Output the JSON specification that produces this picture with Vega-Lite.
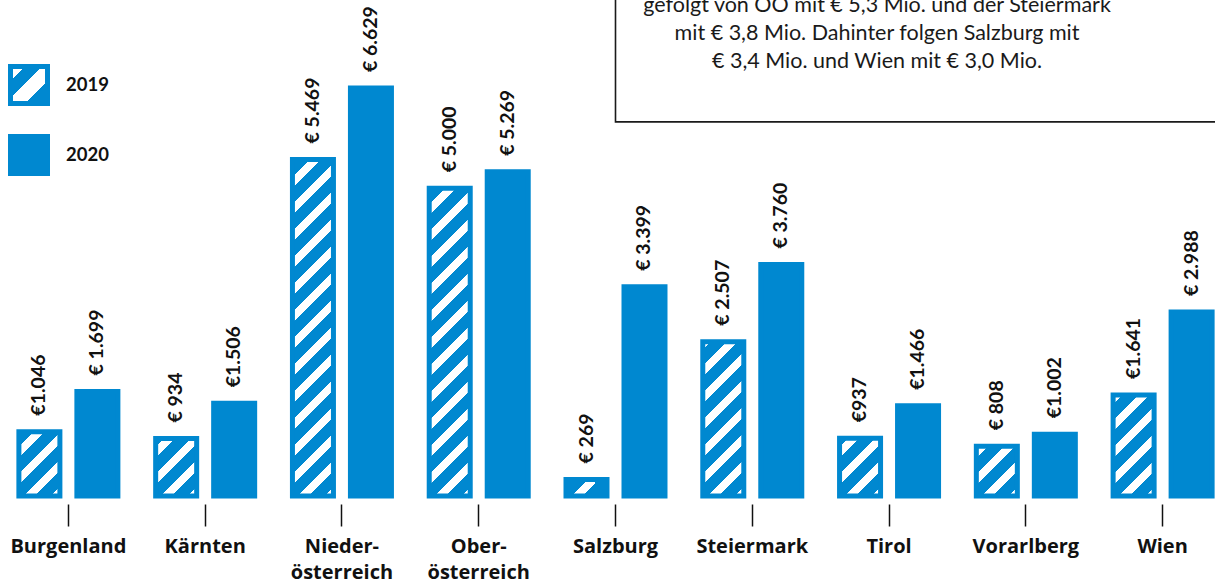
{
  "$schema": "https://vega.github.io/schema/vega-lite/v6.json",
  "width": 1231,
  "height": 496,
  "autosize": {"type": "none"},
  "padding": {"left": 0, "top": 0, "right": 0, "bottom": 86},
  "background": "white",
  "config": {"view": {"stroke": null}, "font": "Lato"},
  "datasets": {
    "funding": [
      {"region": "Burgenland", "year": "2019", "value": 1046, "label": "€1.046"},
      {"region": "Burgenland", "year": "2020", "value": 1699, "label": "€ 1.699"},
      {"region": "Kärnten", "year": "2019", "value": 934, "label": "€ 934"},
      {"region": "Kärnten", "year": "2020", "value": 1506, "label": "€1.506"},
      {"region": "Niederösterreich", "year": "2019", "value": 5469, "label": "€ 5.469"},
      {"region": "Niederösterreich", "year": "2020", "value": 6629, "label": "€ 6.629"},
      {"region": "Oberösterreich", "year": "2019", "value": 5000, "label": "€ 5.000"},
      {"region": "Oberösterreich", "year": "2020", "value": 5269, "label": "€ 5.269"},
      {"region": "Salzburg", "year": "2019", "value": 269, "label": "€ 269"},
      {"region": "Salzburg", "year": "2020", "value": 3399, "label": "€ 3.399"},
      {"region": "Steiermark", "year": "2019", "value": 2507, "label": "€ 2.507"},
      {"region": "Steiermark", "year": "2020", "value": 3760, "label": "€ 3.760"},
      {"region": "Tirol", "year": "2019", "value": 937, "label": "€937"},
      {"region": "Tirol", "year": "2020", "value": 1466, "label": "€1.466"},
      {"region": "Vorarlberg", "year": "2019", "value": 808, "label": "€ 808"},
      {"region": "Vorarlberg", "year": "2020", "value": 1002, "label": "€1.002"},
      {"region": "Wien", "year": "2019", "value": 1641, "label": "€1.641"},
      {"region": "Wien", "year": "2020", "value": 2988, "label": "€ 2.988"}
    ],
    "note": [
      {"note": "gefolgt von OÖ mit € 5,3 Mio. und der Steiermark\nmit € 3,8 Mio. Dahinter folgen Salzburg mit\n€ 3,4 Mio. und Wien mit € 3,0 Mio."}
    ]
  },
  "layer": [
    {
      "data": {"name": "funding"},
      "mark": {"type": "bar", "stroke": "#0088d0", "strokeWidth": 5, "strokeJoin": "miter"},
      "encoding": {
        "x": {
          "field": "region", "type": "nominal", "sort": null, "title": null,
          "scale": {"paddingInner": 0, "paddingOuter": 0},
          "axis": {
            "domain": false, "grid": false, "ticks": true, "tickSize": 22, "tickWidth": 1.5, "tickColor": "#111111",
            "offset": 8, "labelAngle": 0, "labelFont": "Open Sans", "labelFontWeight": "bold", "labelFontSize": 20,
            "labelColor": "#111111", "labelPadding": 10, "labelLineHeight": 26, "labelBaseline": "top",
            "labelExpr": "split(replace(datum.label, 'rösterreich', 'r-|österreich'), '|')"
          }
        },
        "xOffset": {"field": "year", "type": "nominal", "scale": {"paddingInner": 0.293, "paddingOuter": 0.3257}},
        "y": {"field": "value", "type": "quantitative", "scale": {"domain": [0, 8060], "nice": false}, "axis": null},
        "fill": {
          "field": "year", "type": "nominal",
          "scale": {"range": [
            {"expr": "{gradient: 'linear', x1: 0, y1: 0, x2: 1, y2: 1, stops: [{offset: 0, color: '#ffffff'}, {offset: 0.2, color: '#ffffff'}, {offset: 0.2, color: '#0088d0'}, {offset: 0.42, color: '#0088d0'}, {offset: 0.42, color: '#ffffff'}, {offset: 0.7, color: '#ffffff'}, {offset: 0.7, color: '#0088d0'}, {offset: 1, color: '#0088d0'}]}"},
            "#0088d0"]},
          "legend": {
            "orient": "none", "legendX": 8, "legendY": 64, "title": null,
            "symbolType": "square", "symbolSize": 1369, "symbolStrokeWidth": 5, "symbolStrokeColor": "#0088d0",
            "symbolOpacity": 1, "rowPadding": 12, "labelFont": "Lato", "labelFontWeight": "bold", "labelFontSize": 18.5,
            "labelColor": "#111111", "labelOffset": 16
          },
          "condition": [
            {"test": "datum.year === '2019' && datum.region === 'Burgenland'", "value": {"gradient": "linear", "x1": 0, "y1": 0, "x2": 0.7417, "y2": 1.1645, "stops": [
              {"offset": 0, "color": "#0088d0"},
              {"offset": 0.1459, "color": "#0088d0"}, {"offset": 0.1459, "color": "#ffffff"}, {"offset": 0.2503, "color": "#ffffff"}, {"offset": 0.2503, "color": "#0088d0"},
              {"offset": 0.4021, "color": "#0088d0"}, {"offset": 0.4021, "color": "#ffffff"}, {"offset": 0.5065, "color": "#ffffff"}, {"offset": 0.5065, "color": "#0088d0"},
              {"offset": 0.6583, "color": "#0088d0"}, {"offset": 0.6583, "color": "#ffffff"}, {"offset": 0.7627, "color": "#ffffff"}, {"offset": 0.7627, "color": "#0088d0"},
              {"offset": 0.9146, "color": "#0088d0"}, {"offset": 0.9146, "color": "#ffffff"}, {"offset": 1, "color": "#ffffff"}]}},
            {"test": "datum.year === '2019' && datum.region === 'Kärnten'", "value": {"gradient": "linear", "x1": 0, "y1": 0, "x2": 0.81, "y2": 1.1355, "stops": [
              {"offset": 0, "color": "#0088d0"},
              {"offset": 0.0861, "color": "#0088d0"}, {"offset": 0.0861, "color": "#ffffff"}, {"offset": 0.1978, "color": "#ffffff"}, {"offset": 0.1978, "color": "#0088d0"},
              {"offset": 0.3603, "color": "#0088d0"}, {"offset": 0.3603, "color": "#ffffff"}, {"offset": 0.472, "color": "#ffffff"}, {"offset": 0.472, "color": "#0088d0"},
              {"offset": 0.6344, "color": "#0088d0"}, {"offset": 0.6344, "color": "#ffffff"}, {"offset": 0.7461, "color": "#ffffff"}, {"offset": 0.7461, "color": "#0088d0"},
              {"offset": 0.9086, "color": "#0088d0"}, {"offset": 0.9086, "color": "#ffffff"}, {"offset": 1, "color": "#ffffff"}]}},
            {"test": "datum.year === '2019' && datum.region === 'Niederösterreich'", "value": {"gradient": "linear", "x1": 0, "y1": 0, "x2": 0.13467, "y2": 1.10542, "stops": [
              {"offset": 0, "color": "#0088d0"},
              {"offset": 0.04648, "color": "#0088d0"}, {"offset": 0.04648, "color": "#ffffff"}, {"offset": 0.07562, "color": "#ffffff"}, {"offset": 0.07562, "color": "#0088d0"},
              {"offset": 0.118, "color": "#0088d0"}, {"offset": 0.118, "color": "#ffffff"}, {"offset": 0.14713, "color": "#ffffff"}, {"offset": 0.14713, "color": "#0088d0"},
              {"offset": 0.18951, "color": "#0088d0"}, {"offset": 0.18951, "color": "#ffffff"}, {"offset": 0.21865, "color": "#ffffff"}, {"offset": 0.21865, "color": "#0088d0"},
              {"offset": 0.26103, "color": "#0088d0"}, {"offset": 0.26103, "color": "#ffffff"}, {"offset": 0.29016, "color": "#ffffff"}, {"offset": 0.29016, "color": "#0088d0"},
              {"offset": 0.33254, "color": "#0088d0"}, {"offset": 0.33254, "color": "#ffffff"}, {"offset": 0.36168, "color": "#ffffff"}, {"offset": 0.36168, "color": "#0088d0"},
              {"offset": 0.40406, "color": "#0088d0"}, {"offset": 0.40406, "color": "#ffffff"}, {"offset": 0.43319, "color": "#ffffff"}, {"offset": 0.43319, "color": "#0088d0"},
              {"offset": 0.47557, "color": "#0088d0"}, {"offset": 0.47557, "color": "#ffffff"}, {"offset": 0.50471, "color": "#ffffff"}, {"offset": 0.50471, "color": "#0088d0"},
              {"offset": 0.54709, "color": "#0088d0"}, {"offset": 0.54709, "color": "#ffffff"}, {"offset": 0.57622, "color": "#ffffff"}, {"offset": 0.57622, "color": "#0088d0"},
              {"offset": 0.6186, "color": "#0088d0"}, {"offset": 0.6186, "color": "#ffffff"}, {"offset": 0.64774, "color": "#ffffff"}, {"offset": 0.64774, "color": "#0088d0"},
              {"offset": 0.69012, "color": "#0088d0"}, {"offset": 0.69012, "color": "#ffffff"}, {"offset": 0.71925, "color": "#ffffff"}, {"offset": 0.71925, "color": "#0088d0"},
              {"offset": 0.76163, "color": "#0088d0"}, {"offset": 0.76163, "color": "#ffffff"}, {"offset": 0.79077, "color": "#ffffff"}, {"offset": 0.79077, "color": "#0088d0"},
              {"offset": 0.83315, "color": "#0088d0"}, {"offset": 0.83315, "color": "#ffffff"}, {"offset": 0.86228, "color": "#ffffff"}, {"offset": 0.86228, "color": "#0088d0"},
              {"offset": 0.90466, "color": "#0088d0"}, {"offset": 0.90466, "color": "#ffffff"}, {"offset": 0.93379, "color": "#ffffff"}, {"offset": 0.93379, "color": "#0088d0"},
              {"offset": 0.97616, "color": "#0088d0"}, {"offset": 0.97616, "color": "#ffffff"}, {"offset": 1, "color": "#ffffff"}]}},
            {"test": "datum.year === '2019' && datum.region === 'Oberösterreich'", "value": {"gradient": "linear", "x1": 0, "y1": 0, "x2": 0.14837, "y2": 1.11348, "stops": [
              {"offset": 0, "color": "#0088d0"},
              {"offset": 0.045, "color": "#0088d0"}, {"offset": 0.045, "color": "#ffffff"}, {"offset": 0.07654, "color": "#ffffff"}, {"offset": 0.07654, "color": "#0088d0"},
              {"offset": 0.12243, "color": "#0088d0"}, {"offset": 0.12243, "color": "#ffffff"}, {"offset": 0.15398, "color": "#ffffff"}, {"offset": 0.15398, "color": "#0088d0"},
              {"offset": 0.19986, "color": "#0088d0"}, {"offset": 0.19986, "color": "#ffffff"}, {"offset": 0.23141, "color": "#ffffff"}, {"offset": 0.23141, "color": "#0088d0"},
              {"offset": 0.2773, "color": "#0088d0"}, {"offset": 0.2773, "color": "#ffffff"}, {"offset": 0.30884, "color": "#ffffff"}, {"offset": 0.30884, "color": "#0088d0"},
              {"offset": 0.35473, "color": "#0088d0"}, {"offset": 0.35473, "color": "#ffffff"}, {"offset": 0.38628, "color": "#ffffff"}, {"offset": 0.38628, "color": "#0088d0"},
              {"offset": 0.43217, "color": "#0088d0"}, {"offset": 0.43217, "color": "#ffffff"}, {"offset": 0.46371, "color": "#ffffff"}, {"offset": 0.46371, "color": "#0088d0"},
              {"offset": 0.5096, "color": "#0088d0"}, {"offset": 0.5096, "color": "#ffffff"}, {"offset": 0.54114, "color": "#ffffff"}, {"offset": 0.54114, "color": "#0088d0"},
              {"offset": 0.58703, "color": "#0088d0"}, {"offset": 0.58703, "color": "#ffffff"}, {"offset": 0.61858, "color": "#ffffff"}, {"offset": 0.61858, "color": "#0088d0"},
              {"offset": 0.66446, "color": "#0088d0"}, {"offset": 0.66446, "color": "#ffffff"}, {"offset": 0.69601, "color": "#ffffff"}, {"offset": 0.69601, "color": "#0088d0"},
              {"offset": 0.7419, "color": "#0088d0"}, {"offset": 0.7419, "color": "#ffffff"}, {"offset": 0.77344, "color": "#ffffff"}, {"offset": 0.77344, "color": "#0088d0"},
              {"offset": 0.81933, "color": "#0088d0"}, {"offset": 0.81933, "color": "#ffffff"}, {"offset": 0.85088, "color": "#ffffff"}, {"offset": 0.85088, "color": "#0088d0"},
              {"offset": 0.89676, "color": "#0088d0"}, {"offset": 0.89676, "color": "#ffffff"}, {"offset": 0.92831, "color": "#ffffff"}, {"offset": 0.92831, "color": "#0088d0"},
              {"offset": 0.97419, "color": "#0088d0"}, {"offset": 0.97419, "color": "#ffffff"}, {"offset": 1, "color": "#ffffff"}]}},
            {"test": "datum.year === '2019' && datum.region === 'Salzburg'", "value": {"gradient": "linear", "x1": 0, "y1": 0, "x2": 1.207, "y2": 0.4872, "stops": [
              {"offset": 0, "color": "#0088d0"},
              {"offset": 0.3745, "color": "#0088d0"}, {"offset": 0.3745, "color": "#ffffff"}, {"offset": 0.5656, "color": "#ffffff"}, {"offset": 0.5656, "color": "#0088d0"},
              {"offset": 1, "color": "#0088d0"}]}},
            {"test": "datum.year === '2019' && datum.region === 'Steiermark'", "value": {"gradient": "linear", "x1": 0, "y1": 0, "x2": 0.31419, "y2": 1.18226, "stops": [
              {"offset": 0, "color": "#ffffff"}, {"offset": 0.0424, "color": "#ffffff"}, {"offset": 0.0424, "color": "#0088d0"},
              {"offset": 0.12433, "color": "#0088d0"}, {"offset": 0.12433, "color": "#ffffff"}, {"offset": 0.18067, "color": "#ffffff"}, {"offset": 0.18067, "color": "#0088d0"},
              {"offset": 0.2626, "color": "#0088d0"}, {"offset": 0.2626, "color": "#ffffff"}, {"offset": 0.31893, "color": "#ffffff"}, {"offset": 0.31893, "color": "#0088d0"},
              {"offset": 0.40086, "color": "#0088d0"}, {"offset": 0.40086, "color": "#ffffff"}, {"offset": 0.45719, "color": "#ffffff"}, {"offset": 0.45719, "color": "#0088d0"},
              {"offset": 0.53912, "color": "#0088d0"}, {"offset": 0.53912, "color": "#ffffff"}, {"offset": 0.59545, "color": "#ffffff"}, {"offset": 0.59545, "color": "#0088d0"},
              {"offset": 0.67738, "color": "#0088d0"}, {"offset": 0.67738, "color": "#ffffff"}, {"offset": 0.73372, "color": "#ffffff"}, {"offset": 0.73372, "color": "#0088d0"},
              {"offset": 0.81565, "color": "#0088d0"}, {"offset": 0.81565, "color": "#ffffff"}, {"offset": 0.87198, "color": "#ffffff"}, {"offset": 0.87198, "color": "#0088d0"},
              {"offset": 0.95391, "color": "#0088d0"}, {"offset": 0.95391, "color": "#ffffff"}, {"offset": 1, "color": "#ffffff"}]}},
            {"test": "datum.year === '2019' && datum.region === 'Tirol'", "value": {"gradient": "linear", "x1": 0, "y1": 0, "x2": 0.8081, "y2": 1.13645, "stops": [
              {"offset": 0, "color": "#0088d0"},
              {"offset": 0.08778, "color": "#0088d0"}, {"offset": 0.08778, "color": "#ffffff"}, {"offset": 0.19927, "color": "#ffffff"}, {"offset": 0.19927, "color": "#0088d0"},
              {"offset": 0.36144, "color": "#0088d0"}, {"offset": 0.36144, "color": "#ffffff"}, {"offset": 0.47294, "color": "#ffffff"}, {"offset": 0.47294, "color": "#0088d0"},
              {"offset": 0.63511, "color": "#0088d0"}, {"offset": 0.63511, "color": "#ffffff"}, {"offset": 0.7466, "color": "#ffffff"}, {"offset": 0.7466, "color": "#0088d0"},
              {"offset": 0.90878, "color": "#0088d0"}, {"offset": 0.90878, "color": "#ffffff"}, {"offset": 1, "color": "#ffffff"}]}},
            {"test": "datum.year === '2019' && datum.region === 'Vorarlberg'", "value": {"gradient": "linear", "x1": 0, "y1": 0, "x2": 0.8956, "y2": 1.08608, "stops": [
              {"offset": 0, "color": "#0088d0"},
              {"offset": 0.00794, "color": "#0088d0"}, {"offset": 0.00794, "color": "#ffffff"}, {"offset": 0.12919, "color": "#ffffff"}, {"offset": 0.12919, "color": "#0088d0"},
              {"offset": 0.30556, "color": "#0088d0"}, {"offset": 0.30556, "color": "#ffffff"}, {"offset": 0.42681, "color": "#ffffff"}, {"offset": 0.42681, "color": "#0088d0"},
              {"offset": 0.60317, "color": "#0088d0"}, {"offset": 0.60317, "color": "#ffffff"}, {"offset": 0.72443, "color": "#ffffff"}, {"offset": 0.72443, "color": "#0088d0"},
              {"offset": 0.90079, "color": "#0088d0"}, {"offset": 0.90079, "color": "#ffffff"}, {"offset": 1, "color": "#ffffff"}]}},
            {"test": "datum.year === '2019' && datum.region === 'Wien'", "value": {"gradient": "linear", "x1": 0, "y1": 0, "x2": 0.49008, "y2": 1.20704, "stops": [
              {"offset": 0, "color": "#ffffff"}, {"offset": 0.06325, "color": "#ffffff"}, {"offset": 0.06325, "color": "#0088d0"},
              {"offset": 0.17594, "color": "#0088d0"}, {"offset": 0.17594, "color": "#ffffff"}, {"offset": 0.25342, "color": "#ffffff"}, {"offset": 0.25342, "color": "#0088d0"},
              {"offset": 0.36611, "color": "#0088d0"}, {"offset": 0.36611, "color": "#ffffff"}, {"offset": 0.44358, "color": "#ffffff"}, {"offset": 0.44358, "color": "#0088d0"},
              {"offset": 0.55628, "color": "#0088d0"}, {"offset": 0.55628, "color": "#ffffff"}, {"offset": 0.63375, "color": "#ffffff"}, {"offset": 0.63375, "color": "#0088d0"},
              {"offset": 0.74645, "color": "#0088d0"}, {"offset": 0.74645, "color": "#ffffff"}, {"offset": 0.82392, "color": "#ffffff"}, {"offset": 0.82392, "color": "#0088d0"},
              {"offset": 0.93661, "color": "#0088d0"}, {"offset": 0.93661, "color": "#ffffff"}, {"offset": 1, "color": "#ffffff"}]}}
          ]
        }
      }
    },
    {
      "data": {"name": "funding"},
      "mark": {"type": "text", "angle": 270, "align": "left", "baseline": "middle", "dx": 16, "font": "Lato", "fontWeight": "bold", "fontSize": 19.5, "color": "#111111"},
      "encoding": {
        "x": {"field": "region", "type": "nominal", "sort": null},
        "xOffset": {"field": "year", "type": "nominal"},
        "y": {"field": "value", "type": "quantitative"},
        "text": {"field": "label"}
      }
    },
    {
      "data": {"name": "note"},
      "mark": {"type": "rect", "fill": "transparent", "stroke": "#1a1a1a", "strokeWidth": 1.6, "x2Offset": 60},
      "encoding": {
        "x": {"datum": "Salzburg", "type": "nominal", "bandPosition": 0.5},
        "x2": {"datum": "Wien", "bandPosition": 1},
        "y": {"datum": 6080, "type": "quantitative"},
        "y2": {"datum": 9500}
      }
    },
    {
      "data": {"name": "note"},
      "mark": {"type": "text", "font": "Lato", "fontSize": 21.5, "lineHeight": 28, "lineBreak": "\n", "align": "center", "baseline": "middle", "dx": -12, "color": "#1a1a1a"},
      "encoding": {
        "x": {"datum": "Tirol", "type": "nominal"},
        "y": {"datum": 7960, "type": "quantitative"},
        "text": {"field": "note"}
      }
    }
  ]
}
